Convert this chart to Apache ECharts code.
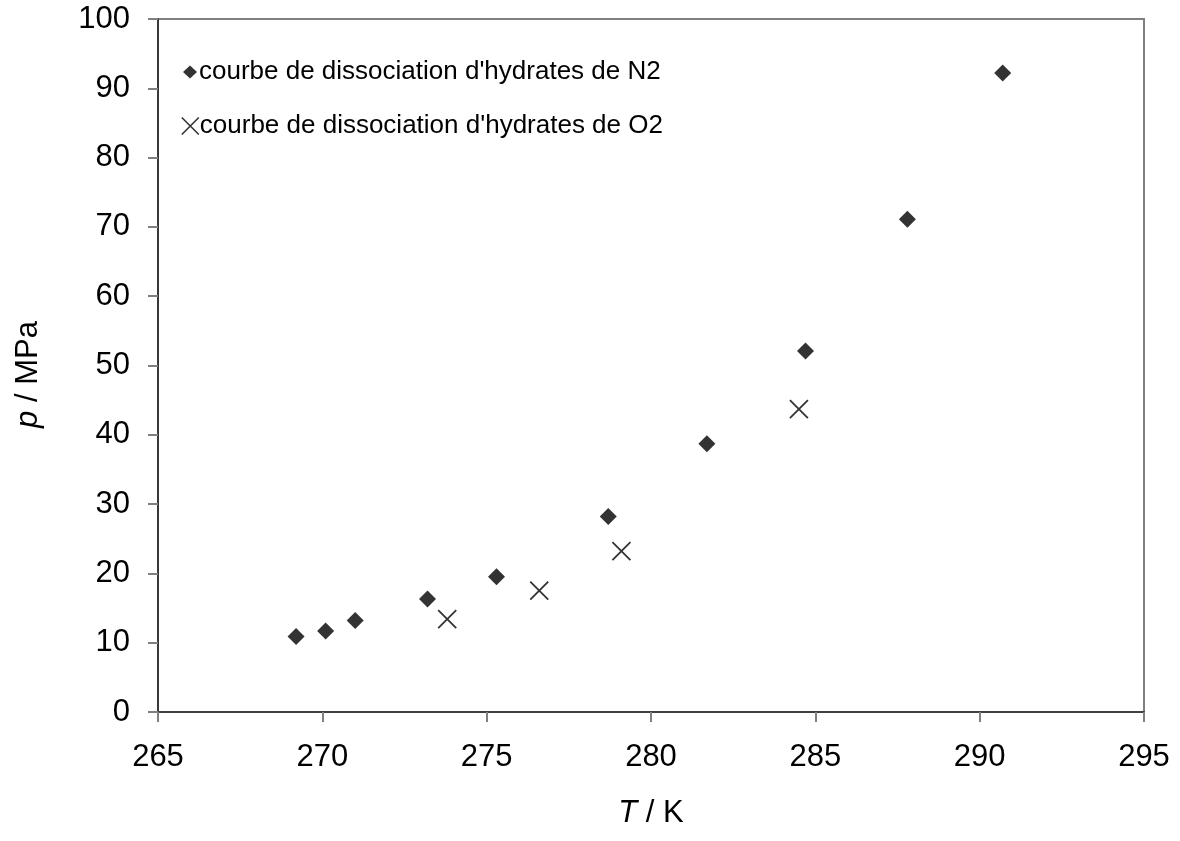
<!DOCTYPE html>
<html>
<head>
<meta charset="utf-8">
<script src="https://cdn.jsdelivr.net/npm/echarts@6/dist/echarts.min.js"></script>
<style>
  html, body { margin: 0; padding: 0; background: #fff; }
  #chart { width: 1180px; height: 841px; }
</style>
</head>
<body>
<div id="chart"></div>
<script>
// N2 hydrate dissociation points: temperature (K) and pressure (MPa)
const n2T = [269.2, 270.1, 271.0, 273.2, 275.3, 278.7, 281.7, 284.7, 287.8, 290.7];
const n2P = [10.9, 11.7, 13.2, 16.3, 19.5, 28.2, 38.7, 52.1, 71.1, 92.2];
// O2 hydrate dissociation points
const o2T = [273.8, 276.6, 279.1, 284.5];
const o2P = [13.4, 17.5, 23.2, 43.7];

const n2Name = "courbe de dissociation d'hydrates de N2";
const o2Name = "courbe de dissociation d'hydrates de O2";

const FONT = '"Liberation Sans", Arial, sans-serif';
const crossPath = 'path://M0,0L10,10M10,0L0,10';

const chart = echarts.init(document.getElementById('chart'), null, { renderer: 'canvas' });

const pairs = (xs, ys) => xs.map((x, i) => [x, ys[i]]);

chart.setOption({
  animation: false,
  backgroundColor: '#ffffff',
  textStyle: { fontFamily: FONT, color: '#000' },
  grid: {
    left: 158, right: 36, top: 19, bottom: 129,
    show: true, borderColor: '#808080', borderWidth: 2, backgroundColor: 'transparent'
  },
  legend: [
    {
      data: [{ name: n2Name, icon: 'diamond' }],
      left: 183, top: 59, padding: 0,
      itemWidth: 14, itemHeight: 13, itemGap: 5,
      textStyle: { fontFamily: FONT, fontSize: 26, color: '#000', padding: [0, 0, 0, -3] }
    },
    {
      data: [{ name: o2Name, icon: crossPath }],
      left: 181, top: 113, padding: 0,
      itemWidth: 17, itemHeight: 17, itemGap: 5,
      itemStyle: { color: 'transparent', borderColor: '#000', borderWidth: 1.6 },
      textStyle: { fontFamily: FONT, fontSize: 26, color: '#000', padding: [0, 0, 0, -4] }
    }
  ],
  xAxis: {
    type: 'value', min: 265, max: 295, interval: 5,
    name: '{i|T} / K', nameLocation: 'middle', nameGap: 86,
    nameTextStyle: {
      fontFamily: FONT, fontSize: 31, color: '#000',
      rich: { i: { fontFamily: FONT, fontSize: 31, fontStyle: 'italic', color: '#000' } }
    },
    axisLine: { show: true, onZero: false, lineStyle: { color: '#404040', width: 2 } },
    axisTick: { show: true, inside: false, length: 10, lineStyle: { color: '#808080', width: 2 } },
    axisLabel: { fontFamily: FONT, fontSize: 31, color: '#000', margin: 30 },
    splitLine: { show: false }
  },
  yAxis: {
    type: 'value', min: 0, max: 100, interval: 10,
    name: '{i|p} / MPa', nameLocation: 'middle', nameGap: 114,
    nameTextStyle: {
      fontFamily: FONT, fontSize: 31, color: '#000', padding: [0, 18, 0, 0],
      rich: { i: { fontFamily: FONT, fontSize: 31, fontStyle: 'italic', color: '#000' } }
    },
    axisLine: { show: true, onZero: false, lineStyle: { color: '#202020', width: 1.5 } },
    axisTick: { show: true, inside: false, length: 10, lineStyle: { color: '#808080', width: 2 } },
    axisLabel: { fontFamily: FONT, fontSize: 31, color: '#000', margin: 28 },
    splitLine: { show: false }
  },
  series: [
    {
      name: n2Name, type: 'scatter', symbol: 'diamond', symbolSize: 17,
      itemStyle: { color: '#000' },
      data: pairs(n2T, n2P), z: 3
    },
    {
      name: o2Name, type: 'scatter', symbol: crossPath, symbolSize: 18,
      itemStyle: { color: 'transparent', borderColor: '#000', borderWidth: 1.8 },
      data: pairs(o2T, o2P), z: 3
    }
  ]
});
</script>
</body>
</html>
